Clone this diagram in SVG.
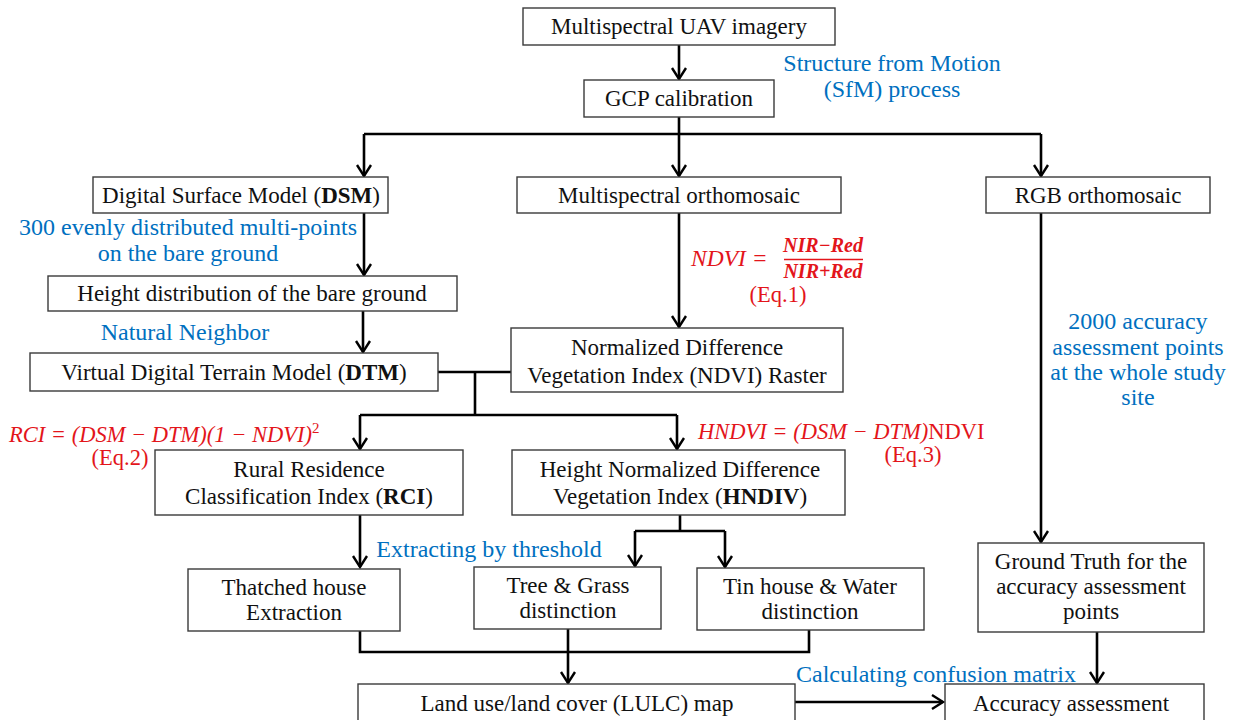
<svg xmlns="http://www.w3.org/2000/svg" width="1235" height="720" viewBox="0 0 1235 720">
<style>
.box{fill:#fff;stroke:#3a3a3a;stroke-width:1.4}
.t{font-family:"Liberation Serif",serif;font-size:23px;fill:#111;text-anchor:middle}
.b{font-family:"Liberation Serif",serif;font-size:24px;fill:#0070C0;text-anchor:middle}
.r{font-family:"Liberation Serif",serif;font-size:22.5px;fill:#E3151B;font-style:italic}
.rn{font-family:"Liberation Serif",serif;font-size:22.5px;fill:#E3151B;font-style:normal}
.fr{font-family:"Liberation Serif",serif;font-size:20px;fill:#E3151B;font-style:italic;font-weight:bold;text-anchor:middle}
.ln{fill:none;stroke:#000;stroke-width:2.6}
.ar{fill:none;stroke:#000;stroke-width:2.6;marker-end:url(#ah)}
</style>
<defs>
<marker id="ah" markerUnits="userSpaceOnUse" markerWidth="20" markerHeight="20" refX="0" refY="0" viewBox="-12 -10 14 20" orient="auto">
<path d="M-11,-7 L0,0 L-11,7" fill="none" stroke="#000" stroke-width="2.4"/>
</marker>
</defs>
<g id="connectors">
<path class="ar" d="M679,45 V79"/>
<path class="ln" d="M679,117 V134 M364,134 H1041"/>
<path class="ar" d="M364,134 V176"/>
<path class="ar" d="M679,134 V176"/>
<path class="ar" d="M1041,134 V176"/>
<path class="ar" d="M364,213 V275"/>
<path class="ar" d="M679,213 V327"/>
<path class="ar" d="M363,311 V352"/>
<path class="ln" d="M438,372 H511 M475,372 V415 M360,415 H677"/>
<path class="ar" d="M360,415 V449"/>
<path class="ar" d="M677,415 V449"/>
<path class="ar" d="M360,515 V567"/>
<path class="ln" d="M680,515 V531 M635,531 H725"/>
<path class="ar" d="M635,531 V566"/>
<path class="ar" d="M725,531 V567"/>
<path class="ln" d="M360,631 V652 H809 V630"/>
<path class="ar" d="M568,629 V683"/>
<path class="ar" d="M1041,213 V542"/>
<path class="ar" d="M1097,632 V683"/>
<path class="ar" d="M795,702 H943"/>
</g>
<g id="n-uav"><rect class="box" x="523" y="8" width="312" height="37"/><text class="t" x="679" y="34">Multispectral UAV imagery</text></g>
<g id="n-gcp"><rect class="box" x="584" y="80" width="190" height="37"/><text class="t" x="679" y="106">GCP calibration</text></g>
<g id="l-sfm"><text class="b" x="892" y="71">Structure from Motion</text><text class="b" x="892" y="97">(SfM) process</text></g>
<g id="n-dsm"><rect class="box" x="93" y="177" width="295" height="36"/><text class="t" x="241" y="203">Digital Surface Model (<tspan font-weight="bold">DSM</tspan>)</text></g>
<g id="n-mso"><rect class="box" x="517" y="177" width="324" height="36"/><text class="t" x="679" y="203">Multispectral orthomosaic</text></g>
<g id="n-rgb"><rect class="box" x="986" y="177" width="224" height="36"/><text class="t" x="1098" y="203">RGB orthomosaic</text></g>
<g id="l-300"><text class="b" x="188" y="235">300 evenly distributed multi-points</text><text class="b" x="188" y="261">on the bare ground</text></g>
<g id="n-height"><rect class="box" x="48" y="276" width="409" height="35"/><text class="t" x="252" y="301">Height distribution of the bare ground</text></g>
<g id="l-nn"><text class="b" x="185" y="340">Natural Neighbor</text></g>
<g id="n-dtm"><rect class="box" x="30" y="353" width="408" height="38"/><text class="t" x="234" y="380">Virtual Digital Terrain Model (<tspan font-weight="bold">DTM</tspan>)</text></g>
<g id="n-ndvi"><rect class="box" x="511" y="328" width="332" height="64"/><text class="t" x="677" y="355">Normalized Difference</text><text class="t" x="677" y="383">Vegetation Index (NDVI) Raster</text></g>
<g id="l-eq1">
<text class="r" x="691" y="266" style="font-size:23.5px">NDVI =</text>
<text class="fr" x="823" y="252">NIR−Red</text>
<line x1="784" y1="259.5" x2="863" y2="259.5" stroke="#E3151B" stroke-width="1.5"/>
<text class="fr" x="823" y="278">NIR+Red</text>
<text class="rn" x="778" y="302" text-anchor="middle">(Eq.1)</text>
</g>
<g id="l-2000"><text class="b" x="1138" y="329">2000 accuracy</text><text class="b" x="1138" y="355">assessment points</text><text class="b" x="1138" y="380">at the whole study</text><text class="b" x="1138" y="405">site</text></g>
<g id="l-eq2"><text class="r" x="9" y="442">RCI = (DSM − DTM)(1 − NDVI)<tspan font-size="15" dy="-9" font-style="normal">2</tspan></text><text class="rn" x="120" y="465" text-anchor="middle">(Eq.2)</text></g>
<g id="l-eq3"><text class="r" x="698" y="439">HNDVI = (DSM − DTM)<tspan font-style="normal">NDVI</tspan></text><text class="rn" x="913" y="462" text-anchor="middle">(Eq.3)</text></g>
<g id="n-rci"><rect class="box" x="155" y="450" width="308" height="65"/><text class="t" x="309" y="477">Rural Residence</text><text class="t" x="309" y="504">Classification Index (<tspan font-weight="bold">RCI</tspan>)</text></g>
<g id="n-hndiv"><rect class="box" x="512" y="450" width="333" height="65"/><text class="t" x="680" y="477">Height Normalized Difference</text><text class="t" x="680" y="504">Vegetation Index (<tspan font-weight="bold">HNDIV</tspan>)</text></g>
<g id="l-thr"><text class="b" x="489" y="557">Extracting by threshold</text></g>
<g id="n-thatch"><rect class="box" x="188" y="569" width="212" height="62"/><text class="t" x="294" y="595">Thatched house</text><text class="t" x="294" y="620">Extraction</text></g>
<g id="n-tree"><rect class="box" x="474" y="567" width="187" height="62"/><text class="t" x="568" y="593">Tree &amp; Grass</text><text class="t" x="568" y="618">distinction</text></g>
<g id="n-tin"><rect class="box" x="697" y="568" width="227" height="62"/><text class="t" x="810" y="594">Tin house &amp; Water</text><text class="t" x="810" y="619">distinction</text></g>
<g id="n-gt"><rect class="box" x="978" y="543" width="226" height="89"/><text class="t" x="1091" y="569">Ground Truth for the</text><text class="t" x="1091" y="594">accuracy assessment</text><text class="t" x="1091" y="619">points</text></g>
<g id="l-conf"><text class="b" x="936" y="682">Calculating confusion matrix</text></g>
<g id="n-lulc"><rect class="box" x="358" y="684" width="437" height="50"/><text class="t" x="577" y="711">Land use/land cover (LULC) map</text></g>
<g id="n-acc"><rect class="box" x="945" y="684" width="259" height="50"/><text class="t" x="1071" y="711">Accuracy assessment</text></g>
</svg>
